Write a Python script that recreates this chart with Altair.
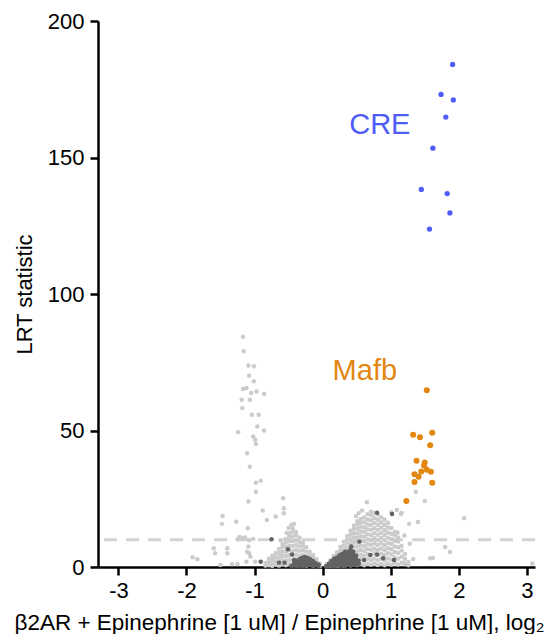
import altair as alt
import pandas as pd

# ---- data ----
cre_x = [1.91, 1.74, 1.92, 1.81, 1.62, 1.45, 1.83, 1.87, 1.57]
cre_y = [184.1, 173.1, 171.1, 164.8, 153.4, 138.3, 136.8, 129.7, 123.8]

mafb_x = [1.53, 1.33, 1.43, 1.61, 1.58, 1.38, 1.50, 1.49, 1.53, 1.45, 1.59, 1.35, 1.41, 1.61, 1.35, 1.23]
mafb_y = [64.7, 48.4, 47.5, 49.2, 44.6, 38.9, 38.3, 37.2, 35.6, 35.0, 34.9, 34.0, 33.1, 30.9, 31.1, 24.2]

# scattered light-grey genes (x, y pairs)
light_x = [
    -1.17, -1.16, -1.09, -1.01, -1.08, -1.01, -1.17, -1.12, -1.05, -0.97, -0.86,
    -1.19, -1.07, -1.18, -0.94, -1.04, -0.96, -1.24, -0.86, -1.02, -0.99, -0.98,
    -1.11, -1.07, -0.98, -0.91, -0.98, -1.09, -0.88, -1.47, -1.27, -1.10,
    -1.48, -1.18, -1.22, -1.25, -1.14, -1.08, -1.02, -1.40, -1.40, -1.58, -1.91, -1.84,
    -1.11, -1.08, -1.06, -1.12, -1.50, -1.33, -1.25, -0.99, -1.60, -1.09,
    -0.58, -0.57, -0.57, -0.69, -0.82, -0.50, -0.46, -0.53, -0.42, -0.62,
    0.65, 0.58, 0.53, 0.49, 1.09, 1.01, 1.15, 1.10, 1.50, 1.37, 2.08, 1.40, 1.27, 1.16,
    1.80, 1.87, 1.62, 1.33, 1.19, 1.58, 3.08, 1.20, 1.28,
]
light_y = [
    84.3, 79.0, 73.8, 73.5, 70.1, 68.0, 65.2, 65.6, 63.7, 64.3, 63.4,
    61.3, 61.3, 58.2, 55.8, 55.8, 51.5, 49.4, 50.0, 47.8, 46.6, 45.1,
    41.7, 36.7, 30.9, 31.6, 27.6, 24.0, 20.7, 18.7, 16.6, 14.2,
    15.8, 10.5, 11.0, 10.2, 10.8, 9.8, 10.3, 6.9, 5.0, 5.0, 3.6, 2.8,
    5.6, 5.0, 3.8, 1.9, 0.7, 1.0, 1.1, 1.9, 6.9, 7.5,
    25.2, 21.5, 19.7, 18.5, 17.2, 14.3, 15.5, 12.5, 15.8, 9.8,
    23.7, 20.7, 19.7, 18.6, 20.9, 20.1, 19.4, 12.6, 24.2, 27.6, 17.9, 16.5, 15.8, 19.8,
    7.3, 5.5, 3.3, 2.9, 1.5, 3.2, 1.3, 11.5, 8.5,
]

# dense light-grey cloud, read column by column (x: list of y)
light_cloud = {
    -0.84: [0.5, 1.5], -0.79: [0.6, 1.8, 3.0], -0.74: [0.4, 1.7, 2.9, 4.1],
    -0.69: [0.8, 2.2, 3.6, 5.1], -0.64: [0.5, 2.0, 3.5, 5.0, 6.6],
    -0.59: [0.9, 2.5, 4.1, 5.7, 7.3, 8.4], -0.54: [0.6, 2.2, 3.9, 5.6, 7.3, 9.0, 10.3],
    -0.49: [1.0, 2.7, 4.4, 6.1, 7.8, 9.5, 11.2, 12.4],
    -0.44: [0.7, 2.4, 4.2, 5.9, 7.7, 9.4, 11.2, 12.9, 14.1],
    -0.39: [1.1, 2.8, 4.6, 6.3, 8.1, 9.8, 11.6, 12.8],
    -0.34: [0.6, 2.3, 4.0, 5.8, 7.5, 9.2, 10.7], -0.29: [1.0, 2.7, 4.4, 6.1, 7.8, 8.9],
    -0.24: [0.5, 2.2, 3.9, 5.6, 7.2], -0.19: [0.9, 2.5, 4.1, 5.6], -0.14: [0.5, 2.0, 3.4, 4.4],
    -0.09: [0.7, 1.8, 2.8], -0.04: [0.4, 1.2],
    0.06: [0.4, 1.0], 0.11: [0.5, 1.4, 2.4], 0.16: [0.6, 1.9, 3.0, 4.0],
    0.21: [0.5, 1.6, 2.9, 4.2, 5.4], 0.26: [0.7, 2.1, 3.5, 4.9, 6.2, 7.4],
    0.31: [0.5, 1.9, 3.3, 4.8, 6.3, 7.8, 9.3], 0.36: [0.8, 2.4, 3.9, 5.5, 7.0, 8.6, 10.1, 11.4],
    0.41: [0.6, 2.2, 3.8, 5.4, 7.0, 8.6, 10.2, 11.8, 13.3],
    0.46: [1.0, 2.6, 4.3, 5.9, 7.5, 9.1, 10.8, 12.4, 14.0, 15.2],
    0.51: [0.7, 2.3, 4.0, 5.7, 7.4, 9.0, 10.7, 12.3, 14.0, 15.6, 16.8],
    0.56: [1.1, 2.8, 4.5, 6.2, 7.9, 9.6, 11.3, 13.0, 14.7, 16.3, 17.6],
    0.61: [0.6, 2.4, 4.1, 5.9, 7.6, 9.4, 11.1, 12.9, 14.6, 16.4, 18.1],
    0.66: [1.2, 3.0, 4.8, 6.6, 8.4, 10.2, 12.0, 13.8, 15.6, 17.4, 19.3],
    0.71: [0.8, 2.6, 4.4, 6.3, 8.1, 9.9, 11.7, 13.6, 15.4, 17.2, 19.0, 20.2],
    0.76: [1.3, 3.1, 5.0, 6.8, 8.7, 10.5, 12.4, 14.2, 16.1, 17.9, 19.7],
    0.81: [0.7, 2.5, 4.4, 6.2, 8.1, 9.9, 11.8, 13.6, 15.5, 17.3, 19.2],
    0.86: [1.1, 3.0, 4.9, 6.8, 8.7, 10.6, 12.5, 14.4, 16.3, 18.2],
    0.91: [0.6, 2.4, 4.3, 6.1, 8.0, 9.8, 11.7, 13.5, 15.4, 17.3],
    0.96: [1.2, 3.1, 5.0, 6.9, 8.8, 10.7, 12.6, 14.5, 16.2],
    1.01: [0.8, 2.7, 4.6, 6.5, 8.4, 10.3, 12.2, 14.3],
    1.06: [1.5, 3.5, 5.5, 7.5, 9.5, 11.6, 12.8], 1.11: [0.9, 3.0, 5.1, 7.2, 9.3, 10.8],
    1.16: [1.6, 3.8, 6.0, 7.8], 1.21: [1.0, 3.0, 4.8], 1.26: [0.6, 1.8],
}

# scattered dark-grey genes
dark_x = [0.80, 1.02, 0.54, 0.42, 0.70, 0.80, 0.89, 0.61, 1.05,
          -0.75, -0.51, -0.45, -0.42, -0.64, -0.56, -0.91]
dark_y = [19.9, 19.4, 9.3, 7.5, 4.4, 4.6, 3.2, 2.6, 2.6,
          10.2, 6.5, 4.6, 2.6, 1.6, 1.6, 1.9]

# dense dark-grey cloud (x: list of y)
dark_cloud = {
    -0.46: [0.4], -0.42: [0.5, 1.4], -0.38: [0.4, 1.3, 2.3], -0.34: [0.7, 1.7, 2.8],
    -0.30: [0.4, 1.4, 2.4, 3.4], -0.26: [0.8, 1.8, 2.8, 3.7], -0.22: [0.5, 1.5, 2.5, 3.3],
    -0.18: [0.9, 1.9, 2.8], -0.14: [0.5, 1.4, 2.2], -0.10: [0.6, 1.4], -0.06: [0.4, 0.9],
    0.05: [0.3], 0.09: [0.4, 1.2], 0.13: [0.5, 1.4, 2.2], 0.17: [0.4, 1.3, 2.2, 3.0],
    0.21: [0.6, 1.5, 2.5, 3.5], 0.25: [0.4, 1.4, 2.4, 3.4, 4.3],
    0.29: [0.7, 1.7, 2.8, 3.9, 4.9], 0.33: [0.4, 1.5, 2.6, 3.7, 4.8, 5.6],
    0.37: [0.8, 1.9, 3.1, 4.3, 5.5], 0.41: [0.5, 1.7, 2.9, 4.1, 5.3, 6.3],
    0.45: [1.0, 2.2, 3.4, 4.6, 5.6], 0.49: [0.6, 1.8, 3.0, 4.2], 0.53: [1.1, 2.3],
}

threshold = [10]
label_text = ["CRE", "Mafb"]
label_x = [0.84, 0.62]
label_y = [162, 71.7]
x_ticks = [-3, -2, -1, 0, 1, 2, 3]
y_ticks = [0, 50, 100, 150, 200]


def table(xs, ys, cloud):
    px, py = list(xs), list(ys)
    for cx, col in cloud.items():
        for cy in col:
            px.append(cx)
            py.append(cy)
    return pd.DataFrame({"x": px, "y": py})


# ---- chart ----
xscale = alt.Scale(domain=[-3.3, 3.12], nice=False, zero=False)
yscale = alt.Scale(domain=[0, 200], nice=False)
FONT = "Liberation Sans"
BLUE = "#4f5cf5"
ORANGE = "#e2870f"

xax = alt.Axis(
    title="β2AR + Epinephrine [1 uM] / Epinephrine [1 uM], log₂",
    values=x_ticks, labelExpr="'' + datum.value", titlePadding=10, labelPadding=5,
    titleFontSize=22.5, titleX=181,
)
yax = alt.Axis(title="LRT statistic", values=y_ticks, titlePadding=11, labelPadding=6,
               titleFontSize=22)

light = alt.Chart(table(light_x, light_y, light_cloud)).mark_circle(
    size=20, color="#cbcbcb", opacity=1
).encode(x=alt.X("x:Q", scale=xscale, axis=xax), y=alt.Y("y:Q", scale=yscale, axis=yax))

dark = alt.Chart(table(dark_x, dark_y, dark_cloud)).mark_circle(
    size=20, color="#626262", opacity=1
).encode(x=alt.X("x:Q", scale=xscale), y=alt.Y("y:Q", scale=yscale))

rule = alt.Chart(pd.DataFrame({"y": threshold})).mark_rule(
    color="#d3d3d3", strokeWidth=3, strokeDash=[13, 9]
).encode(y=alt.Y("y:Q", scale=yscale))

mafb = alt.Chart(pd.DataFrame({"x": mafb_x, "y": mafb_y})).mark_circle(
    size=36, color=ORANGE, opacity=1
).encode(x=alt.X("x:Q", scale=xscale), y=alt.Y("y:Q", scale=yscale))

cre = alt.Chart(pd.DataFrame({"x": cre_x, "y": cre_y})).mark_circle(
    size=28, color=BLUE, opacity=1
).encode(x=alt.X("x:Q", scale=xscale), y=alt.Y("y:Q", scale=yscale))

labels = alt.Chart(pd.DataFrame({"t": label_text, "x": label_x, "y": label_y})).mark_text(
    font=FONT, fontSize=29
).encode(
    x=alt.X("x:Q", scale=xscale),
    y=alt.Y("y:Q", scale=yscale),
    text="t:N",
    color=alt.Color("t:N", scale=alt.Scale(domain=label_text, range=[BLUE, ORANGE]), legend=None),
)

chart = alt.layer(rule, light, dark, mafb, cre, labels).properties(
    width=437, height=546, padding={"left": 5, "top": 2, "right": 5, "bottom": 0}
).configure_view(stroke=None).configure_axis(
    grid=False, domainColor="black", domainWidth=2.5, tickColor="black", tickWidth=2.5,
    tickSize=8, labelFont=FONT, labelFontSize=22, labelColor="black",
    titleFont=FONT, titleFontWeight="normal", titleColor="black",
)

chart.save("out.html", embed_options={"renderer": "svg", "actions": False})
